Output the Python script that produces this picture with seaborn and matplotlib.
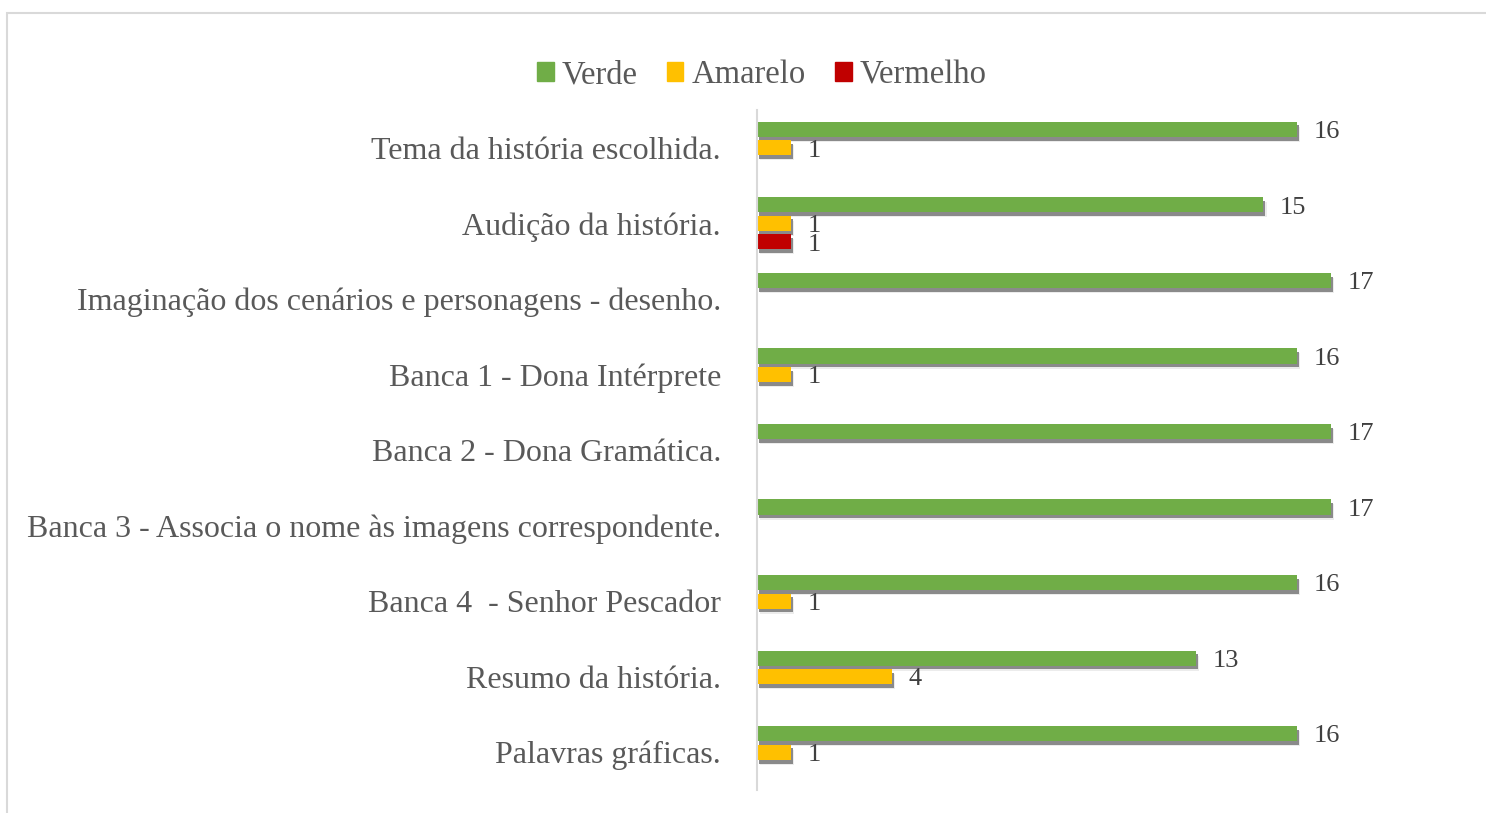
import matplotlib
matplotlib.use("Agg")
import matplotlib.pyplot as plt
import matplotlib.patheffects as pe
from matplotlib.patches import Rectangle
import numpy as np
import pandas as pd
import seaborn as sns

categorias = [
    "Tema da história escolhida.",
    "Audição da história.",
    "Imaginação dos cenários e personagens - desenho.",
    "Banca 1 - Dona Intérprete",
    "Banca 2 - Dona Gramática.",
    "Banca 3 - Associa o nome às imagens correspondente.",
    "Banca 4  - Senhor Pescador",
    "Resumo da história.",
    "Palavras gráficas.",
]
verde = [16, 15, 17, 16, 17, 17, 16, 13, 16]
amarelo = [1, 1, 0, 1, 0, 0, 1, 4, 1]
vermelho = [0, 1, 0, 0, 0, 0, 0, 0, 0]
series = ["Verde", "Amarelo", "Vermelho"]
cores = ["#70AD47", "#FFC000", "#C00000"]

rows = []
for nome, vals in zip(series, [verde, amarelo, vermelho]):
    for cat, v in zip(categorias, vals):
        if v > 0:
            rows.append({"cat": cat, "serie": nome, "valor": v})
df = pd.DataFrame(rows)

sns.set_style("white")
plt.rcParams["font.family"] = ["Liberation Serif", "DejaVu Serif"]

fig = plt.figure(figsize=(14.86, 8.13), dpi=100)
ax = fig.add_axes([757 / 1486, 1 - 790 / 813, (1432 - 757) / 1486, 680 / 813])

sns.barplot(data=df, y="cat", x="valor", hue="serie", order=categorias,
            hue_order=series, palette=cores, saturation=1, orient="h", width=0.735,
            gap=0.18, ax=ax, legend=False)

# sombra cinzenta como no Excel
shadow = [pe.SimplePatchShadow(offset=(2.5, -3.6), shadow_rgbFace="#ececec", alpha=1),
          pe.SimplePatchShadow(offset=(1.5, -2.7), shadow_rgbFace="#8a8a8a", alpha=1),
          pe.Normal()]
for p in ax.patches:
    p.set_path_effects(shadow)
    p.set_linewidth(0)

for cont in ax.containers:
    labels = [f"{int(w)}" if w > 0 else "" for w in cont.datavalues]
    anns = ax.bar_label(cont, labels=labels, padding=12, fontsize=19, color="#404040")
    for a in anns:
        a.xyann = (12, -2)

ax.set_xlim(0, 20)
ax.set_ylim(8.5, -0.5)
ax.set_xlabel("")
ax.set_ylabel("")
ax.set_xticks([])
ax.tick_params(axis="y", length=0, pad=26, labelsize=23, labelcolor="#595959")
for s in ["top", "right", "bottom"]:
    ax.spines[s].set_visible(False)
ax.spines["left"].set_color("#d9d9d9")
ax.spines["left"].set_linewidth(1.5)

handles = [Rectangle((0, 0), 1, 1, color=c) for c in cores]
fig.legend(handles, series, loc="center", bbox_to_anchor=(762 / 1486, 1 - 75 / 813),
           ncol=3, frameon=False, fontsize=23.5, labelcolor="#595959",
           handlelength=0.5, handleheight=0.5, handletextpad=0.25, columnspacing=0.9)

fig.patches.append(Rectangle((7 / 1486, -0.1), 1.2, 1.1 - 13 / 813, transform=fig.transFigure,
                             fill=False, edgecolor="#d9d9d9", linewidth=1.5))

fig.savefig("out.png", dpi=100, facecolor="white")
